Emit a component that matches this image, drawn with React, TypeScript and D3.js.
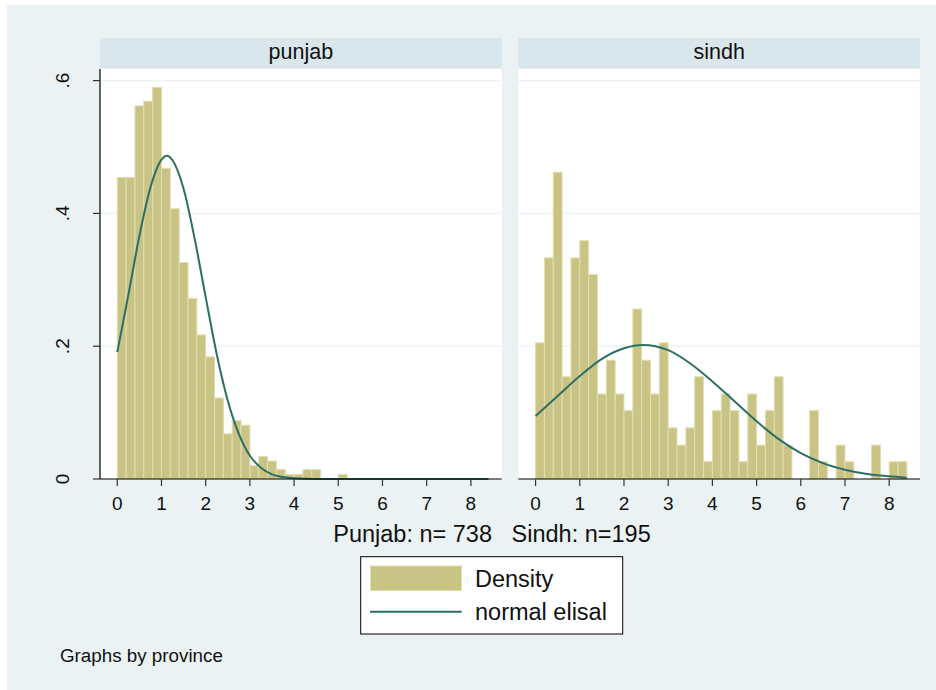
import React, { useEffect, useRef } from 'react';
import * as d3 from 'd3';

// histogram bins, lower edges (bin width 0.2)
const binStarts = [
    0, 0.2, 0.4, 0.6, 0.8, 1, 1.2, 1.4, 1.6, 1.8, 2, 2.2, 2.4, 2.6, 2.8, 3, 3.2, 3.4, 3.6, 3.8, 4,
    4.2, 4.4, 4.6, 4.8, 5, 5.2, 5.4, 5.6, 5.8, 6, 6.2, 6.4, 6.6, 6.8, 7, 7.2, 7.4, 7.6, 7.8, 8, 8.2
];
const binWidth = 0.2;

const punjabDensity = [
    0.454, 0.454, 0.562, 0.569, 0.590, 0.468, 0.407, 0.326, 0.272, 0.217, 0.184, 0.122, 0.068, 0.088,
    0.081, 0.020, 0.034, 0.027, 0.014, 0.007, 0.007, 0.014, 0.014, 0, 0, 0.007, 0, 0, 0, 0, 0, 0, 0, 0,
    0, 0, 0, 0, 0, 0, 0, 0
];
const sindhDensity = [
    0.205, 0.333, 0.462, 0.154, 0.333, 0.359, 0.308, 0.128, 0.179, 0.128, 0.103, 0.256, 0.179, 0.128,
    0.205, 0.077, 0.051, 0.077, 0.154, 0.026, 0.103, 0.128, 0.103, 0.026, 0.128, 0.051, 0.103, 0.154,
    0.051, 0, 0, 0.103, 0.026, 0, 0.051, 0.026, 0, 0, 0.051, 0, 0.026, 0.026
];

// normal density overlay
const punjabCurveX = [0, 0.25, 0.5, 0.75, 1, 1.12, 1.25, 1.5, 1.75, 2, 2.25, 2.5, 2.75, 3, 3.25, 3.5, 3.75, 4, 4.5, 5, 6, 7, 8, 8.4];
const punjabCurveY = [0.191, 0.277, 0.366, 0.439, 0.481, 0.487, 0.480, 0.437, 0.362, 0.274, 0.188, 0.118, 0.068, 0.035, 0.017, 0.007, 0.003, 0.001, 0.0001, 0, 0, 0, 0, 0];
const sindhCurveX = [0, 0.5, 1, 1.5, 2, 2.43, 3, 3.5, 4, 4.5, 5, 5.5, 6, 6.5, 7, 7.5, 8, 8.4];
const sindhCurveY = [0.095, 0.125, 0.155, 0.181, 0.197, 0.202, 0.194, 0.174, 0.147, 0.117, 0.087, 0.060, 0.039, 0.024, 0.014, 0.0075, 0.004, 0.002];

const xTicks = [0, 1, 2, 3, 4, 5, 6, 7, 8];
const yTicks = [0, 0.2, 0.4, 0.6];
const yTickLabels = ['0', '.2', '.4', '.6'];
const panelNames = ['punjab', 'sindh'];
const noteText = 'Punjab: n= 738   Sindh: n=195';
const legendLabels = ['Density', 'normal elisal'];
const byText = 'Graphs by province';

const FONT = '"Liberation Sans", Arial, Helvetica, sans-serif';

const App = () => {
    const svgRef = useRef(null);

    useEffect(() => {
        const svg = d3.select(svgRef.current);
        svg.selectAll('*').remove();

        const bg = '#eaf2f3';
        const stripFill = '#d9e6eb';
        const barFill = '#cac386';
        const barEdge = '#e2deae';
        const curveColor = '#2c6f63';

        svg.append('rect').attr('width', 936).attr('height', 690).attr('fill', '#fff');
        svg.append('rect').attr('x', 7).attr('y', 5).attr('width', 929).attr('height', 685).attr('fill', bg);

        const plotTop = 69;
        const plotBottom = 479;
        const panelW = 401.7;
        const panelX = [100, 518.3];

        const x = d3.scaleLinear().domain([-0.391, 8.697]).range([0, panelW]);
        const y = d3.scaleLinear().domain([0, 0.6175]).range([plotBottom - plotTop, 0]);

        const panels = [
            { name: panelNames[0], dens: punjabDensity, cx: punjabCurveX, cy: punjabCurveY, yAxis: true },
            { name: panelNames[1], dens: sindhDensity, cx: sindhCurveX, cy: sindhCurveY, yAxis: false }
        ];

        panels.forEach((p, i) => {
            // strip
            svg.append('rect')
                .attr('x', panelX[i]).attr('y', 38)
                .attr('width', panelW).attr('height', 30)
                .attr('fill', stripFill);
            svg.append('text')
                .text(p.name)
                .attr('x', panelX[i] + panelW / 2)
                .attr('y', 59)
                .attr('text-anchor', 'middle')
                .attr('font-family', FONT)
                .attr('font-size', '21.5px')
                .attr('fill', '#111');

            const g = svg.append('g').attr('transform', `translate(${panelX[i]},${plotTop})`);

            g.append('rect').attr('width', panelW).attr('height', plotBottom - plotTop).attr('fill', '#fff');

            // grid
            g.selectAll('.grid')
                .data(yTicks.filter(t => t > 0))
                .enter().append('line')
                .attr('x1', 0).attr('x2', panelW)
                .attr('y1', d => y(d)).attr('y2', d => y(d))
                .attr('stroke', bg).attr('stroke-width', 1.3);

            // bars
            g.selectAll('.bar')
                .data(binStarts.map((b, k) => ({ b, v: p.dens[k] })).filter(d => d.v > 0))
                .enter().append('rect')
                .attr('x', d => x(d.b))
                .attr('width', d => x(d.b + binWidth) - x(d.b))
                .attr('y', d => y(d.v))
                .attr('height', d => y(0) - y(d.v))
                .attr('fill', barFill)
                .attr('stroke', barEdge)
                .attr('stroke-width', 1);

            // normal curve
            const line = d3.line()
                .x(d => x(d[0]))
                .y(d => y(d[1]))
                .curve(d3.curveMonotoneX);
            g.append('path')
                .datum(p.cx.map((v, k) => [v, p.cy[k]]))
                .attr('d', line)
                .attr('fill', 'none')
                .attr('stroke', curveColor)
                .attr('stroke-width', 2);

            // x axis
            g.append('line')
                .attr('x1', 0).attr('x2', panelW)
                .attr('y1', y(0)).attr('y2', y(0))
                .attr('stroke', '#000').attr('stroke-width', 1.2);
            g.selectAll('.xtick')
                .data(xTicks)
                .enter().append('line')
                .attr('x1', d => x(d)).attr('x2', d => x(d))
                .attr('y1', y(0)).attr('y2', y(0) + 7)
                .attr('stroke', '#333').attr('stroke-width', 1.2);
            g.selectAll('.xlab')
                .data(xTicks)
                .enter().append('text')
                .text(d => d)
                .attr('x', d => x(d))
                .attr('y', y(0) + 31)
                .attr('text-anchor', 'middle')
                .attr('font-family', FONT)
                .attr('font-size', '19px')
                .attr('fill', '#111');

            if (p.yAxis) {
                g.append('line')
                    .attr('x1', 0).attr('x2', 0)
                    .attr('y1', 0).attr('y2', y(0))
                    .attr('stroke', '#000').attr('stroke-width', 1.2);
                g.selectAll('.ytick')
                    .data(yTicks)
                    .enter().append('line')
                    .attr('x1', -7).attr('x2', 0)
                    .attr('y1', d => y(d)).attr('y2', d => y(d))
                    .attr('stroke', '#333').attr('stroke-width', 1.2);
                g.selectAll('.ylab')
                    .data(yTicks)
                    .enter().append('text')
                    .text((d, k) => yTickLabels[k])
                    .attr('transform', d => `translate(-31.5,${y(d)}) rotate(-90)`)
                    .attr('text-anchor', 'middle')
                    .attr('font-family', FONT)
                    .attr('font-size', '19px')
                    .attr('fill', '#111');
            }
        });

        // note
        svg.append('text')
            .text(noteText)
            .attr('x', 492)
            .attr('y', 542)
            .attr('text-anchor', 'middle')
            .attr('font-family', FONT)
            .attr('font-size', '23.5px')
            .style('white-space', 'pre')
            .attr('fill', '#111');

        // legend
        const lg = svg.append('g');
        lg.append('rect')
            .attr('x', 360.7).attr('y', 556.7)
            .attr('width', 262).attr('height', 77.3)
            .attr('fill', '#fff').attr('stroke', '#000').attr('stroke-width', 1);
        lg.append('rect')
            .attr('x', 370.5).attr('y', 566)
            .attr('width', 91).attr('height', 24.5)
            .attr('fill', barFill).attr('stroke', barEdge).attr('stroke-width', 1);
        lg.append('line')
            .attr('x1', 370).attr('x2', 461.7)
            .attr('y1', 611.7).attr('y2', 611.7)
            .attr('stroke', curveColor).attr('stroke-width', 2);
        lg.selectAll('.ltext')
            .data(legendLabels)
            .enter().append('text')
            .text(d => d)
            .attr('x', 475)
            .attr('y', (d, k) => 587 + k * 33)
            .attr('font-family', FONT)
            .attr('font-size', '23.5px')
            .attr('fill', '#111');

        svg.append('text')
            .text(byText)
            .attr('x', 60)
            .attr('y', 662)
            .attr('font-family', FONT)
            .attr('font-size', '18.8px')
            .attr('fill', '#111');
    }, []);

    return (
        <div style={{ position: 'absolute', left: 0, top: 0 }}>
            <svg ref={svgRef} width={936} height={690} style={{ display: 'block' }}></svg>
        </div>
    );
};

export default App;
